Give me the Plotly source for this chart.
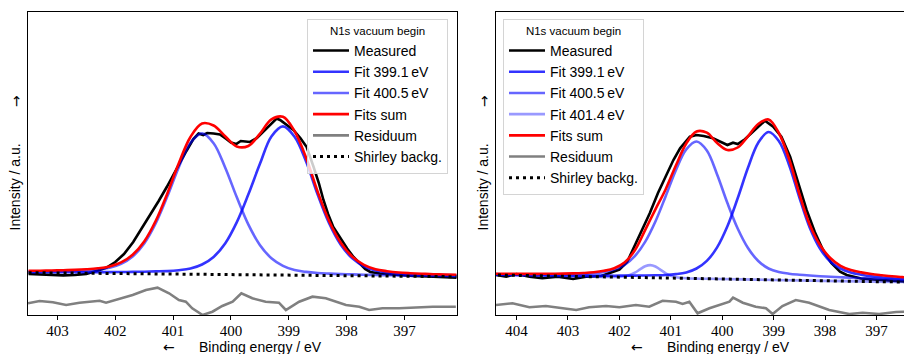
import plotly.graph_objects as go

# ---------------- Left panel: N1s vacuum begin (2 components) ----------------
E_fit_L = [403.5, 403.3, 403.1, 402.9, 402.7, 402.5, 402.3, 402.1, 401.9, 401.7,
           401.5, 401.3, 401.1, 400.9, 400.7, 400.5, 400.3, 400.1, 399.9, 399.7,
           399.5, 399.3, 399.1, 398.9, 398.7, 398.5, 398.3, 398.1, 397.9, 397.7,
           397.5, 397.3, 397.1, 396.9, 396.7, 396.5, 396.3, 396.1]
shirley_L = [42.3, 42.2, 42.1, 42.0, 41.9, 41.8, 41.7, 41.6, 41.5, 41.4,
             41.3, 41.2, 41.0, 40.9, 40.7, 40.6, 40.4, 40.3, 40.2, 40.0,
             39.9, 39.7, 39.6, 39.4, 39.3, 39.2, 39.1, 39.0, 38.9, 38.8,
             38.7, 38.7, 38.6, 38.5, 38.5, 38.4, 38.4, 38.3]
fit3991_L = [42.9, 42.9, 42.8, 42.8, 42.8, 42.8, 42.9, 42.9, 43.0, 43.1,
             43.3, 43.6, 43.9, 44.8, 46.5, 50.5, 58.1, 71.5, 92.6, 120.4,
             150.9, 178.5, 188.6, 178.3, 153.5, 120.5, 91.5, 70.2, 56.6, 48.7,
             44.5, 42.6, 41.5, 40.9, 40.5, 40.1, 39.9, 39.6]
fit4005_L = [43.6, 43.6, 43.8, 43.9, 44.2, 44.6, 45.5, 47.2, 51.1, 58.5,
             71.5, 91.8, 118.7, 148.1, 172.1, 181.6, 171.8, 147.5, 117.9, 90.6,
             70.1, 56.8, 49.2, 45.0, 43.1, 42.0, 41.4, 40.9, 40.6, 40.2,
             40.0, 39.8, 39.6, 39.4, 39.3, 39.1, 39.1, 38.9]
sum_L = [44.2, 44.3, 44.5, 44.8, 45.1, 45.7, 46.7, 48.6, 52.6, 60.2,
         73.5, 94.2, 121.6, 152.0, 178.0, 191.5, 189.5, 178.7, 168.5, 169.0,
         181.1, 195.6, 198.2, 183.9, 157.3, 123.3, 93.8, 72.2, 58.2, 50.2,
         45.8, 43.8, 42.5, 41.8, 41.3, 40.8, 40.5, 40.2]

E_meas_L = [403.5, 403.3, 403.1, 402.9, 402.7, 402.5, 402.3, 402.15, 402.0, 401.85,
            401.69, 401.55, 401.4, 401.25, 401.11, 401.0, 400.88, 400.77, 400.65, 400.56,
            400.48, 400.41, 400.3, 400.19, 400.08, 400.0, 399.91, 399.83, 399.75, 399.67,
            399.55, 399.44, 399.32, 399.21, 399.15, 399.04, 398.92, 398.8, 398.69, 398.57,
            398.48, 398.4, 398.32, 398.23, 398.1, 397.99, 397.88, 397.77, 397.68, 397.59,
            397.42, 397.2, 397.0, 396.85, 396.6, 396.4, 396.1]
meas_L = [41.0, 40.5, 40.2, 39.6, 40.0, 41.0, 44.5, 47.5, 53.0, 61.0,
          73.0, 86.0, 99.0, 114.0, 128.0, 140.0, 152.0, 164.0, 176.0, 181.5,
          180.0, 182.0, 181.5, 180.5, 176.0, 172.5, 171.0, 174.0, 173.5, 173.0,
          177.0, 183.0, 190.0, 196.5, 195.0, 190.0, 185.0, 177.0, 168.0, 148.0,
          132.0, 115.0, 101.0, 88.0, 76.0, 66.5, 58.0, 51.5, 46.0, 43.0,
          41.5, 40.5, 39.5, 39.0, 38.5, 38.0, 37.2]

E_res_L = [403.51, 403.31, 403.08, 402.85, 402.62, 402.27, 402.16, 402.01, 401.7, 401.47,
           401.27, 401.07, 400.9, 400.78, 400.67, 400.49, 400.32, 400.15, 399.97, 399.82,
           399.63, 399.4, 399.17, 399.05, 398.82, 398.59, 398.36, 398.01, 397.78, 397.61,
           397.38, 397.09, 396.74, 396.51, 396.11]
res_L = [11.7, 14.0, 12.7, 10.0, 12.3, 14.3, 12.3, 15.0, 20.0, 25.0,
         27.3, 21.7, 15.0, 13.3, 6.7, 0.0, 3.3, 9.0, 13.3, 21.7,
         16.7, 13.3, 12.3, 5.0, 13.3, 18.3, 16.7, 10.0, 8.3, 5.0,
         6.7, 6.7, 7.7, 8.3, 8.3]

# ---------------- Right panel: N1s vacuum begin (3 components) ----------------
E_fit_R = [404.5, 404.3, 404.1, 403.9, 403.7, 403.5, 403.3, 403.1, 402.9, 402.7,
           402.5, 402.3, 402.1, 401.9, 401.7, 401.5, 401.3, 401.1, 400.9, 400.7,
           400.5, 400.3, 400.1, 399.9, 399.7, 399.5, 399.3, 399.1, 398.9, 398.7,
           398.5, 398.3, 398.1, 397.9, 397.7, 397.5, 397.3, 397.1, 396.9, 396.7,
           396.5, 396.3, 396.1]
shirley_R = [40.1, 39.9, 39.7, 39.5, 39.3, 39.2, 39.0, 38.8, 38.6, 38.5,
             38.3, 38.2, 38.0, 37.9, 37.7, 37.5, 37.3, 37.1, 36.9, 36.7,
             36.5, 36.3, 36.1, 35.9, 35.7, 35.5, 35.3, 35.1, 34.9, 34.7,
             34.5, 34.3, 34.2, 34.0, 33.9, 33.7, 33.6, 33.4, 33.3, 33.1,
             33.0, 32.8, 32.7]
fit3991_R = [40.5, 40.4, 40.2, 40.0, 39.9, 39.8, 39.7, 39.6, 39.4, 39.4,
             39.3, 39.4, 39.3, 39.4, 39.4, 39.5, 39.7, 40.0, 40.9, 42.6,
             46.5, 54.1, 67.6, 88.7, 116.7, 147.2, 172.3, 183.0, 174.0, 150.0,
             117.5, 87.5, 66.5, 53.5, 46.5, 42.5, 40.3, 38.6, 37.6, 36.7,
             36.1, 35.5, 35.1]
fit4005_R = [40.9, 40.8, 40.7, 40.6, 40.6, 40.6, 40.6, 40.7, 40.8, 41.1,
             41.7, 43.0, 45.4, 50.2, 58.9, 73.1, 93.5, 118.8, 145.0, 165.6,
             173.5, 164.5, 140.5, 112.0, 86.5, 67.0, 54.0, 46.5, 43.0, 41.3,
             40.3, 39.5, 38.8, 38.2, 37.7, 37.2, 36.8, 36.4, 36.0, 35.6,
             35.3, 35.0, 34.7]
sum_R = [41.3, 41.3, 41.2, 41.1, 41.1, 41.2, 41.3, 41.4, 41.6, 42.0,
         42.7, 44.2, 46.8, 52.4, 64.7, 84.9, 105.7, 125.8, 149.7, 171.5,
         183.5, 182.3, 172.0, 165.0, 167.5, 178.7, 191.0, 195.5, 182.0, 156.0,
         121.0, 90.5, 70.0, 57.0, 49.2, 45.0, 42.6, 41.0, 39.8, 38.7,
         37.9, 37.2, 36.6]

E_fit4014_R = [404.5, 403.5, 402.5, 402.1, 401.9, 401.8, 401.7, 401.6, 401.5, 401.4,
               401.3, 401.2, 401.1, 401.0, 400.9, 400.7, 400.0, 399.0, 398.0, 397.0,
               396.1]
fit4014_R = [40.1, 39.2, 38.3, 38.0, 38.8, 40.0, 42.3, 45.6, 48.7, 49.9,
             48.5, 45.2, 41.7, 39.1, 37.7, 36.7, 36.0, 35.0, 34.1, 33.4,
             32.7]

E_meas_R = [404.4, 404.2, 404.0, 403.75, 403.5, 403.2, 402.9, 402.65, 402.35, 402.2,
            402.0, 401.85, 401.73, 401.57, 401.41, 401.25, 401.08, 400.95, 400.82, 400.63,
            400.5, 400.36, 400.18, 399.99, 399.9, 399.79, 399.7, 399.56, 399.4, 399.17,
            399.01, 398.85, 398.68, 398.52, 398.36, 398.2, 398.04, 397.88, 397.71, 397.58,
            397.3, 397.06, 396.8, 396.6, 396.35, 396.2]
meas_R = [40.0, 38.3, 41.0, 38.3, 36.7, 38.3, 36.0, 38.3, 39.0, 41.7,
          45.5, 53.0, 66.7, 84.0, 101.7, 122.0, 141.7, 155.0, 166.7, 178.3,
          180.0, 179.0, 176.7, 171.7, 170.0, 172.3, 171.0, 175.7, 183.3, 194.3,
          188.3, 178.3, 158.3, 132.0, 105.0, 83.0, 65.0, 52.0, 43.3, 40.0,
          36.5, 35.5, 34.5, 34.0, 33.3, 33.3]

E_res_R = [404.4, 404.08, 403.75, 403.43, 403.1, 402.84, 402.59, 402.26, 402.0, 401.68,
           401.42, 401.16, 400.9, 400.77, 400.64, 400.48, 400.25, 400.06, 399.86, 399.79,
           399.6, 399.35, 399.15, 399.02, 398.83, 398.57, 398.31, 397.92, 397.53, 397.27,
           396.95, 396.62, 396.36]
res_R = [10.0, 11.7, 7.7, 9.0, 6.7, 5.0, 7.7, 9.0, 7.7, 10.0,
         8.3, 14.3, 13.3, 11.0, 13.3, 1.7, 6.7, 10.0, 13.3, 17.3,
         12.3, 8.3, 6.7, 1.0, 9.0, 15.0, 12.3, 5.0, 1.0, 2.3,
         1.0, 3.0, 3.3]

TICKS_L = [403, 402, 401, 400, 399, 398, 397]
TICKS_R = [404, 403, 402, 401, 400, 399, 398, 397]
LEGEND_TITLE = "N1s vacuum begin"
XLABEL = "Binding energy\u00a0/\u00a0eV"
YLABEL = "Intensity\u00a0/\u00a0a.u."

# ---------------- styling ----------------
C_MEAS = "black"
C_3991 = "rgba(0,0,255,0.8)"
C_4005 = "rgba(0,0,255,0.6)"
C_4014 = "rgba(0,0,255,0.4)"
C_SUM = "red"
C_RES = "gray"
LW = 2.6
SANS = "Liberation Sans"
SERIF = "Liberation Serif"

fig = go.Figure()


def add(x, y, name, color, xa, ya, leg, dash="solid", shape="spline"):
    fig.add_trace(go.Scatter(
        x=x, y=y, name=name, mode="lines", xaxis=xa, yaxis=ya, legend=leg,
        line=dict(color=color, width=LW if dash == "solid" else 3, dash=dash,
                  shape=shape, smoothing=1.0 if shape == "spline" else None),
        hoverinfo="skip"))


# left
add(E_meas_L, meas_L, "Measured", C_MEAS, "x", "y", "legend", shape="linear")
add(E_fit_L, fit3991_L, "Fit 399.1\u2009eV", C_3991, "x", "y", "legend")
add(E_fit_L, fit4005_L, "Fit 400.5\u2009eV", C_4005, "x", "y", "legend")
add(E_fit_L, sum_L, "Fits sum", C_SUM, "x", "y", "legend")
add(E_res_L, res_L, "Residuum", C_RES, "x", "y", "legend", shape="linear")
add(E_fit_L, shirley_L, "Shirley backg.", "black", "x", "y", "legend", dash="3px,4px", shape="linear")

# right
add(E_meas_R, meas_R, "Measured", C_MEAS, "x2", "y2", "legend2", shape="linear")
add(E_fit_R, fit3991_R, "Fit 399.1\u2009eV", C_3991, "x2", "y2", "legend2")
add(E_fit_R, fit4005_R, "Fit 400.5\u2009eV", C_4005, "x2", "y2", "legend2")
add(E_fit4014_R, fit4014_R, "Fit 401.4\u2009eV", C_4014, "x2", "y2", "legend2")
add(E_fit_R, sum_R, "Fits sum", C_SUM, "x2", "y2", "legend2")
add(E_res_R, res_R, "Residuum", C_RES, "x2", "y2", "legend2", shape="linear")
add(E_fit_R, shirley_R, "Shirley backg.", "black", "x2", "y2", "legend2", dash="3px,4px", shape="linear")

# the page body has an 8px default margin, so the figure is 8px smaller than the window
W, H = 904, 346
ML, MR, MT, MB = 20, 0, 4, 39
PW = W - ML - MR
LEFT_W, RIGHT_X0 = 429, 468          # plot-area pixel sizes
RIGHT_W = PW - RIGHT_X0

common_x = dict(ticks="outside", ticklen=4, tickwidth=1, tickcolor="black",
                showline=True, linecolor="black", linewidth=1, mirror=True,
                showgrid=False, zeroline=False, ticklabelstandoff=-2,
                tickfont=dict(family=SERIF, size=15, color="black"))
common_y = dict(range=[0, 303], showticklabels=False, ticks="",
                showline=True, linecolor="black", linewidth=1,
                showgrid=False, zeroline=False)

leg_common = dict(yanchor="top", xanchor="left", y=(307 - 11) / 303,
                  bgcolor="rgba(255,255,255,0.8)", bordercolor="#d4d4d4", borderwidth=1,
                  font=dict(family=SANS, size=14, color="black"),
                  title=dict(text=LEGEND_TITLE, side="top center",
                             font=dict(family=SANS, size=11.5, color="black")),
                  itemwidth=36, tracegroupgap=0)

LBL_FONT = dict(family=SANS, size=14, color="black")
ARR_FONT = dict(family="DejaVu Sans", size=14, color="black")
annotations = []
for xa, ya, w in (("x", "y", LEFT_W), ("x2", "y2", RIGHT_W)):
    # x label and its arrow
    annotations.append(dict(text=XLABEL, xref=xa + " domain", yref=ya + " domain",
                            x=232 / w, y=0, yshift=-32, xanchor="center", yanchor="middle",
                            showarrow=False, font=LBL_FONT))
    annotations.append(dict(text="\u2190", xref=xa + " domain", yref=ya + " domain",
                            x=140.5 / w, y=0, yshift=-32, xanchor="center", yanchor="middle",
                            showarrow=False, font=ARR_FONT))
    # y label and its arrow
    annotations.append(dict(text=YLABEL, xref=xa + " domain", yref=ya + " domain",
                            x=0, xshift=-14, y=127.5 / 303, xanchor="center", yanchor="middle",
                            textangle=-90, showarrow=False, font=LBL_FONT))
    annotations.append(dict(text="\u2192", xref=xa + " domain", yref=ya + " domain",
                            x=0, xshift=-12, y=214 / 303, xanchor="center", yanchor="middle",
                            textangle=-90, showarrow=False, font=ARR_FONT))

fig.update_layout(
    width=W, height=H,
    margin=dict(l=ML, r=MR, t=MT, b=MB, autoexpand=False),
    paper_bgcolor="white", plot_bgcolor="white",
    showlegend=True,
    xaxis=dict(domain=[0, LEFT_W / PW], range=[403.51, 396.09], tickvals=TICKS_L,
               anchor="y", **common_x),
    yaxis=dict(domain=[0, 1], anchor="x", mirror=True, **common_y),
    xaxis2=dict(domain=[RIGHT_X0 / PW, 1], range=[404.40, 396.31], tickvals=TICKS_R,
                anchor="y2", **common_x),
    yaxis2=dict(domain=[0, 1], anchor="x2", mirror=False, **common_y),
    legend=dict(x=279 / PW, **leg_common),
    legend2=dict(x=475 / PW, **leg_common),
    annotations=annotations,
)

fig.write_html("out.html")
